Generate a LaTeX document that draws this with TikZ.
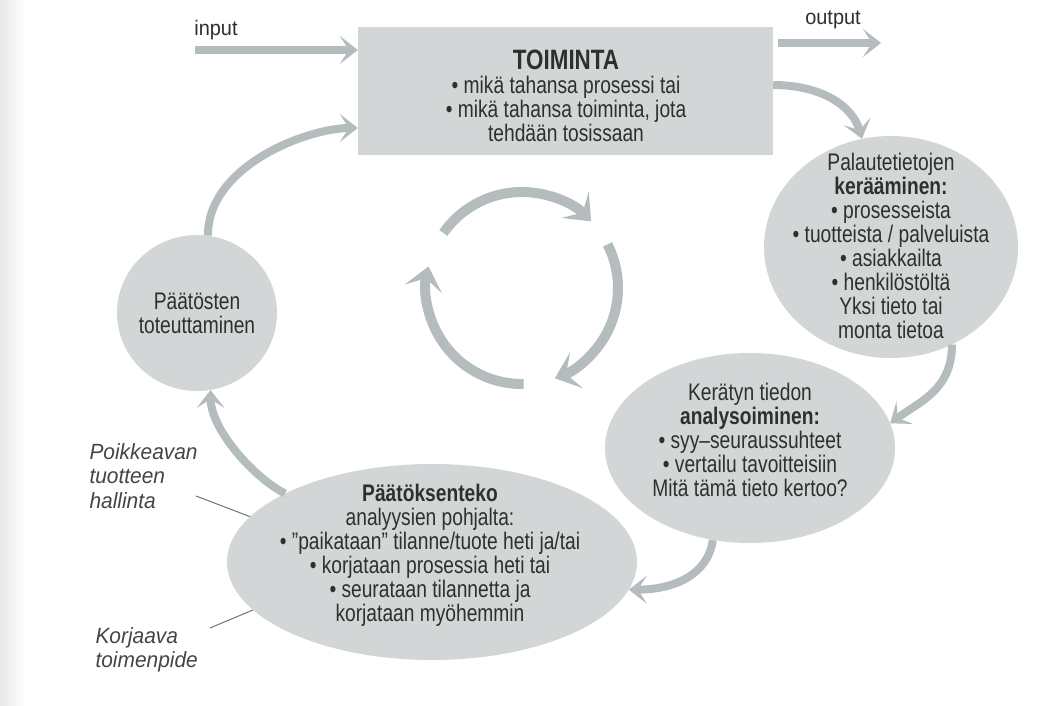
\documentclass[tikz,border=0pt]{standalone}
\usepackage{fontspec}
\setmainfont{Liberation Sans}[FakeStretch=0.8]
\newfontfamily\labelfont{Liberation Sans}[FakeStretch=0.95]
\usetikzlibrary{arrows.meta,shapes.geometric,calc}
\definecolor{shapefill}{HTML}{D3D6D6}
\definecolor{arrowgray}{HTML}{B4BCBD}
\definecolor{ink}{HTML}{2F2F2F}
\definecolor{notegray}{HTML}{454545}
\tikzset{
  flow/.style={draw=arrowgray, line width=8pt,
    -{Stealth[length=18pt,width=28pt,inset=9pt]}},
  cycle/.style={draw=arrowgray, line width=10pt,
    -{Stealth[length=23pt,width=38pt,inset=11pt]}},
  blob/.style={ellipse, fill=shapefill, inner sep=0pt},
  body/.style={font=\fontsize{24}{24}\selectfont, text=ink, align=center},
  io/.style={font=\labelfont\fontsize{21}{24}\selectfont, text=ink},
  note/.style={font=\labelfont\itshape\fontsize{22}{24.2}\selectfont, text=notegray,
    align=left, anchor=west},
  pointer/.style={draw=notegray!75, line width=1pt},
}
\begin{document}
\begin{tikzpicture}[x=1pt,y=-1pt]
\useasboundingbox (0,0) rectangle (1059,706);
\fill[white] (0,0) rectangle (1059,706);
\shade[left color=black!9, right color=white] (0,0) rectangle (26,706);

% main activity block
\node[fill=shapefill, minimum width=415pt, minimum height=128pt, inner sep=0pt]
  (act) at (565.5,91) {};
\node[body] (actTxt) at (566,96)
  {{\fontsize{28}{27}\selectfont\bfseries TOIMINTA}\\
   • mikä tahansa prosessi tai\\
   • mikä tahansa toiminta, jota\\
   tehdään tosissaan};

% feedback collection
\node[blob, minimum width=254pt, minimum height=222pt] (collect) at (891,247) {};
\node[body] (collectTxt) at (891,246)
  {Palautetietojen\\\textbf{kerääminen:}\\• prosesseista\\
   • tuotteista / palveluista\\• asiakkailta\\• henkilöstöltä\\
   Yksi tieto tai\\monta tietoa};

% analysis
\node[blob, minimum width=290pt, minimum height=190pt] (analyse) at (750,448) {};
\node[body] (analyseTxt) at (750,440)
  {Kerätyn tiedon\\\textbf{analysoiminen:}\\• syy–seuraussuhteet\\
   • vertailu tavoitteisiin\\Mitä tämä tieto kertoo?};

% decision making
\node[blob, minimum width=410pt, minimum height=196pt] (decide) at (432,562) {};
\node[body] (decideTxt) at (430,555)
  {\textbf{Päätöksenteko}\\analyysien pohjalta:\\
   • ”paikataan” tilanne/tuote heti ja/tai\\
   • korjataan prosessia heti tai\\
   • seurataan tilannetta ja\\korjataan myöhemmin};

% implementation
\node[blob, minimum width=160pt, minimum height=156pt] (implement) at (197,313) {};
\node[body] (implementTxt) at (197,313) {Päätösten\\toteuttaminen};

% input / output
\node[io] (inLbl) at (216,30) {input};
\node[io] (outLbl) at (833,20) {output};
\coordinate (inStart) at (195,50);
\coordinate (outEnd) at (881,43);
\draw[flow] (inStart) -- (act.west |- inStart);
\draw[flow, shorten <=5pt] (act.east |- outEnd) -- (outEnd);

% main loop
\draw[flow] ([yshift=6pt]act.east) .. controls +(45,0) and +(-10,-35) .. (collect.105);
\draw[flow] (collect.-58) .. controls +(0,45) and +(30,-22) .. (analyse.10);
\draw[flow] (analyse.-112) .. controls +(-5,35) and +(45,0) .. (decide.-8);
\draw[flow] (decide.155) .. controls +(-30,-15) and +(0,40) .. (implement.-80);
\draw[flow] (implement.82) .. controls +(0,-70) and +(-50,0) .. ([yshift=-37pt]act.west);

% inner cycle
\coordinate (hub) at (522,288);
\draw[cycle] ($(hub)+(-145:96)$) arc[start angle=-145, end angle=-44, radius=96];
\draw[cycle] ($(hub)+(-27:96)$) arc[start angle=-27, end angle=70, radius=96];
\draw[cycle] ($(hub)+(89:96)$) arc[start angle=89, end angle=193, radius=96];

% side notes
\node[note] (noteA) at (86,476) {Poikkeavan\\tuotteen\\hallinta};
\node[note] (noteB) at (92,650) {Korjaava\\toimenpide};
\coordinate (noteAEnd) at (196,496);
\coordinate (noteBEnd) at (210,628);
\draw[pointer] (noteAEnd) -- (decide.166);
\draw[pointer] (noteBEnd) -- (decide.-165);
\end{tikzpicture}
\end{document}
